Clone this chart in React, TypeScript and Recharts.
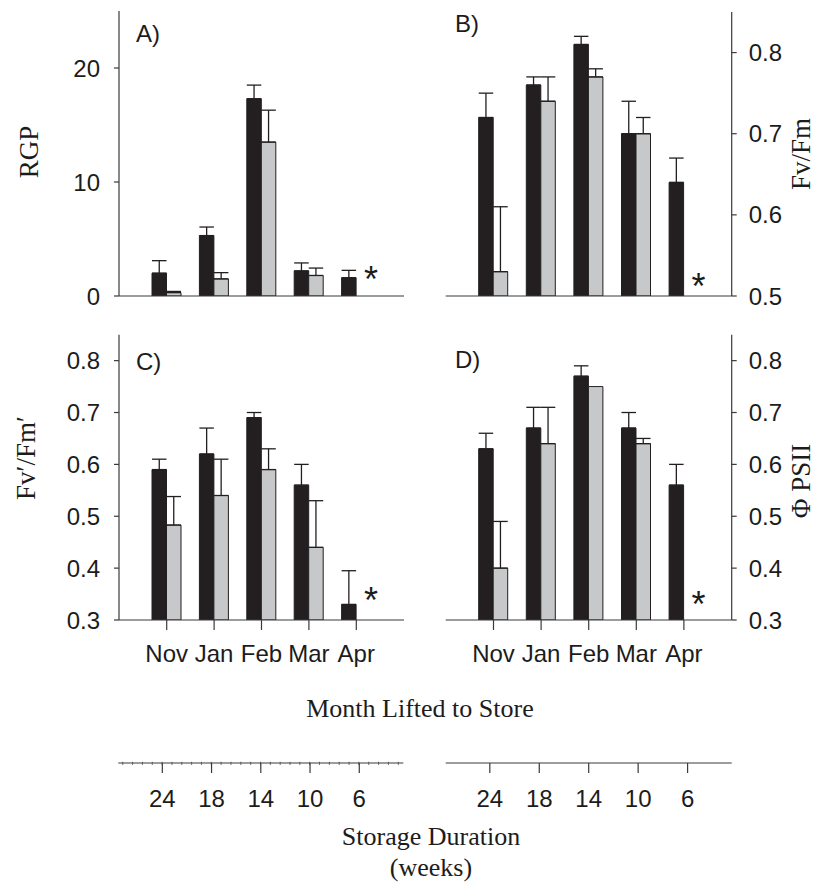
import React from 'react';
import { BarChart, Bar, XAxis, YAxis, ErrorBar, LabelList } from 'recharts';

const SANS = '"Liberation Sans", Arial, Helvetica, sans-serif';
const SERIF = '"Liberation Serif", "Times New Roman", serif';
const INK = '#231f20';
const GREY = '#c7c8ca';
const FRAME = '#8c8c8c';
const AXIS = '#3a3a3a';

// Categories
const months = ['Nov', 'Jan', 'Feb', 'Mar', 'Apr'];
const weeks = ['24', '18', '14', '10', '6'];
const missingMark = ['', '', '', '', '*'];

// A) RGP
const rgpFresh = [2.0, 5.3, 17.3, 2.2, 1.6];
const rgpFreshErr = [1.1, 0.75, 1.2, 0.7, 0.65];
const rgpStored = [0.3, 1.5, 13.5, 1.8, null];
const rgpStoredErr = [0.1, 0.55, 2.8, 0.65, null];
const rgpTicks = [0, 10, 20];

// B) Fv/Fm
const fvfmFresh = [0.72, 0.76, 0.81, 0.70, 0.64];
const fvfmFreshErr = [0.03, 0.01, 0.01, 0.04, 0.03];
const fvfmStored = [0.53, 0.74, 0.77, 0.70, null];
const fvfmStoredErr = [0.08, 0.03, 0.01, 0.02, null];
const fvfmTicks = [0.5, 0.6, 0.7, 0.8];

// C) Fv'/Fm'
const fvfmPFresh = [0.59, 0.62, 0.69, 0.56, 0.33];
const fvfmPFreshErr = [0.02, 0.05, 0.01, 0.04, 0.065];
const fvfmPStored = [0.483, 0.54, 0.59, 0.44, null];
const fvfmPStoredErr = [0.055, 0.07, 0.04, 0.09, null];
const lowTicks = [0.3, 0.4, 0.5, 0.6, 0.7, 0.8];

// D) Phi PSII
const psiiFresh = [0.63, 0.67, 0.77, 0.67, 0.56];
const psiiFreshErr = [0.03, 0.04, 0.02, 0.03, 0.04];
const psiiStored = [0.40, 0.64, 0.75, 0.64, null];
const psiiStoredErr = [0.09, 0.07, null, 0.01, null];

function buildRows(fresh: number[], freshErr: (number | null)[], stored: (number | null)[], storedErr: (number | null)[]) {
  return months.map((m, i) => ({
    month: m,
    fresh: fresh[i],
    freshErr: freshErr[i] == null ? null : [0, freshErr[i]],
    stored: stored[i],
    storedErr: storedErr[i] == null ? null : [0, storedErr[i]],
    mark: missingMark[i],
  }));
}

const rowsA = buildRows(rgpFresh, rgpFreshErr, rgpStored, rgpStoredErr);
const rowsB = buildRows(fvfmFresh, fvfmFreshErr, fvfmStored, fvfmStoredErr);
const rowsC = buildRows(fvfmPFresh, fvfmPFreshErr, fvfmPStored, fvfmPStoredErr);
const rowsD = buildRows(psiiFresh, psiiFreshErr, psiiStored, psiiStoredErr);
const weekRows = weeks.map((w) => ({ week: w, v: null }));

const tickStyle = { fill: '#1c1c1c', fontSize: 24, fontFamily: SANS };

function makeStar(rise: number) {
  return (props: any) => {
    const vb = props.viewBox && props.viewBox.width != null ? props.viewBox : props;
    const { value } = props;
    if (!value) return null;
    const x = Number(vb.x);
    const y = Number(vb.y);
    const w = Number(vb.width);
    const h = Number(vb.height);
    const cx = x + w + 15;
    const cy = y + h - rise;
    return (
      <text x={cx} y={cy + 21} textAnchor="middle" fontFamily={SANS} fontSize={36} fill="#1c1c1c">
        {value}
      </text>
    );
  };
}

type PanelProps = {
  left: number;
  top: number;
  width: number;
  height: number;
  margin: { top: number; right: number; bottom: number; left: number };
  rows: any[];
  domain: [number, number];
  ticks: number[];
  side: 'left' | 'right';
  showMonths: boolean;
  yAxisWidth: number;
  xAxisHeight: number;
  starRise: number;
};

function Panel(p: PanelProps) {
  return (
    <div style={{ position: 'absolute', left: p.left, top: p.top }}>
      <BarChart width={p.width} height={p.height} data={p.rows} margin={p.margin} barGap={0} barSize={14.5}>
        <XAxis
          xAxisId="frameTop"
          orientation="top"
          dataKey="month"
          height={0}
          tick={false}
          tickLine={false}
          axisLine={{ stroke: FRAME, strokeWidth: 1.2 }}
          padding={{ left: 24, right: 24 }}
        />
        <YAxis
          yAxisId="frameSide"
          orientation={p.side === 'left' ? 'right' : 'left'}
          width={0}
          type="number"
          domain={[0, 1]}
          tick={false}
          tickLine={false}
          axisLine={{ stroke: FRAME, strokeWidth: 1.2 }}
        />
        <XAxis
          dataKey="month"
          height={p.xAxisHeight}
          interval={0}
          tickSize={10}
          tickMargin={15}
          tick={p.showMonths ? tickStyle : false}
          tickLine={{ stroke: AXIS, strokeWidth: 1.2 }}
          axisLine={{ stroke: AXIS, strokeWidth: 1.2 }}
          padding={{ left: 24, right: 24 }}
        />
        <YAxis
          orientation={p.side}
          width={p.yAxisWidth}
          type="number"
          domain={p.domain}
          ticks={p.ticks}
          interval={0}
          allowDataOverflow
          tickSize={5}
          tickMargin={p.side === 'left' ? 14 : 12}
          tick={tickStyle}
          tickLine={{ stroke: AXIS, strokeWidth: 1.2 }}
          axisLine={{ stroke: AXIS, strokeWidth: 1.2 }}
        />
        <Bar dataKey="fresh" fill={INK} stroke={INK} strokeWidth={1} isAnimationActive={false}>
          <ErrorBar dataKey="freshErr" direction="y" width={7.25} stroke={INK} strokeWidth={1.3} />
          <LabelList dataKey="mark" content={makeStar(p.starRise)} />
        </Bar>
        <Bar dataKey="stored" fill={GREY} stroke={INK} strokeWidth={1} isAnimationActive={false}>
          <ErrorBar dataKey="storedErr" direction="y" width={7.25} stroke={INK} strokeWidth={1.3} />
        </Bar>
      </BarChart>
    </div>
  );
}

function WeeksAxis({ left, width, margin, minor }: { left: number; width: number; margin: any; minor: boolean }) {
  return (
    <div style={{ position: 'absolute', left, top: 740 }}>
      <BarChart width={width} height={80} data={weekRows} margin={margin}>
        {minor && (
          <XAxis
            xAxisId="minorMarks"
            orientation="top"
            dataKey="week"
            height={1}
            tick={false}
            tickLine={false}
            axisLine={{ stroke: '#777', strokeWidth: 3.2, strokeDasharray: '1 8.84', strokeDashoffset: 5.9 }}
          />
        )}
        <XAxis
          dataKey="week"
          height={57}
          interval={0}
          tickSize={10}
          tickMargin={17}
          tick={tickStyle}
          tickLine={{ stroke: AXIS, strokeWidth: 1.2 }}
          axisLine={{ stroke: AXIS, strokeWidth: 1.2 }}
          padding={{ left: 19.4, right: 19.4 }}
        />
        <YAxis hide type="number" domain={[0, 1]} />
        <Bar dataKey="v" isAnimationActive={false} />
      </BarChart>
    </div>
  );
}

function VLabel({ x, y, text }: { x: number; y: number; text: string }) {
  return (
    <text
      x={x}
      y={y}
      transform={`rotate(-90 ${x} ${y})`}
      textAnchor="middle"
      dominantBaseline="central"
      fontFamily={SERIF}
      fontSize={27}
      fill="#1c1c1c"
    >
      {text}
    </text>
  );
}

export default function App() {
  return (
    <div style={{ position: 'absolute', left: 0, top: 0, width: 828, height: 884, background: '#fff', overflow: 'hidden' }}>
      <Panel
        left={0}
        top={0}
        width={420}
        height={310}
        margin={{ top: 11, right: 16, bottom: 0, left: 0 }}
        rows={rowsA}
        domain={[0, 25]}
        ticks={rgpTicks}
        side="left"
        showMonths={false}
        yAxisWidth={119}
        xAxisHeight={14}
        starRise={25}
      />
      <Panel
        left={420}
        top={0}
        width={408}
        height={310}
        margin={{ top: 12, right: 0, bottom: 0, left: 25.7 }}
        rows={rowsB}
        domain={[0.5, 0.85]}
        ticks={fvfmTicks}
        side="right"
        showMonths={false}
        yAxisWidth={96.3}
        xAxisHeight={14}
        starRise={18}
      />
      <Panel
        left={0}
        top={320}
        width={420}
        height={360}
        margin={{ top: 14.7, right: 16, bottom: 0, left: 0 }}
        rows={rowsC}
        domain={[0.3, 0.85]}
        ticks={lowTicks}
        side="left"
        showMonths={true}
        yAxisWidth={119}
        xAxisHeight={60}
        starRise={28}
      />
      <Panel
        left={420}
        top={320}
        width={408}
        height={360}
        margin={{ top: 14.7, right: 0, bottom: 0, left: 25.7 }}
        rows={rowsD}
        domain={[0.3, 0.85]}
        ticks={lowTicks}
        side="right"
        showMonths={true}
        yAxisWidth={96.3}
        xAxisHeight={60}
        starRise={24}
      />
      <WeeksAxis left={0} width={420} margin={{ top: 22.3, right: 16.7, bottom: 0, left: 118.3 }} minor={true} />
      <WeeksAxis left={420} width={408} margin={{ top: 22, right: 96.3, bottom: 0, left: 25.7 }} minor={false} />
      <svg width={828} height={884} style={{ position: 'absolute', left: 0, top: 0, pointerEvents: 'none' }}>
        <VLabel x={29} y={152} text="RGP" />
        <VLabel x={801} y={154} text="Fv/Fm" />
        <VLabel x={26} y={458} text="Fv′/Fm′" />
        <VLabel x={801} y={481} text="Φ PSII" />
        <g fontFamily={SANS} fontSize={24} fill="#1c1c1c">
          <text x={136} y={42}>A)</text>
          <text x={455} y={32}>B)</text>
          <text x={136} y={370}>C)</text>
          <text x={455} y={368}>D)</text>
        </g>
        <g fontFamily={SERIF} fontSize={26} fill="#1c1c1c" textAnchor="middle">
          <text x={420} y={717}>Month Lifted to Store</text>
          <text x={431} y={845}>Storage Duration</text>
          <text x={431} y={876}>(weeks)</text>
        </g>
      </svg>
    </div>
  );
}
